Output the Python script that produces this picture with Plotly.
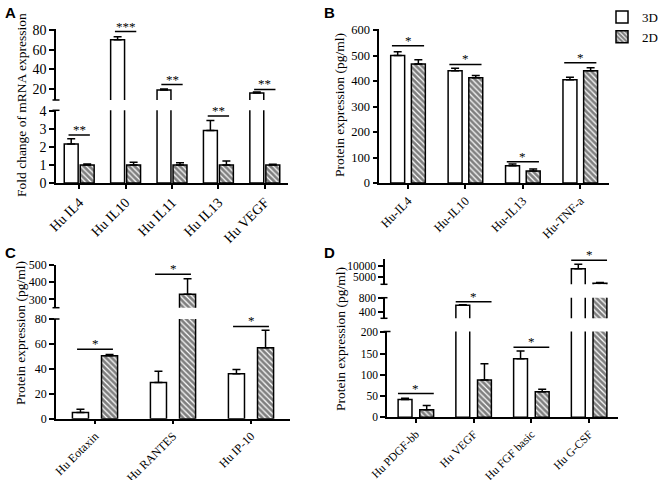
import plotly.graph_objects as go

W, H = 659, 480
SERIF = "Liberation Serif"

# ---- data ----
# A: fold change of mRNA expression
a_cats = ["Hu IL4", "Hu IL10", "Hu IL11", "Hu IL13", "Hu VEGF"]
a_3d = [2.15, 70, 19, 2.9, 16]
a_3d_err = [0.3, 3, 1, 0.55, 1]
a_2d = [1.0, 1.0, 1.0, 1.0, 1.0]
a_2d_err = [0.05, 0.15, 0.12, 0.22, 0.03]
a_sig = [2.65, 78.4, 24.5, 3.7, 19.6]
a_stars = ["**", "***", "**", "**", "**"]

# B: protein expression (pg/ml)
b_cats = ["Hu-IL4", "Hu-IL10", "Hu-IL13", "Hu-TNF-a"]
b_3d = [500, 440, 68, 405]
b_3d_err = [15, 10, 7, 10]
b_2d = [467, 413, 47, 440]
b_2d_err = [16, 9, 8, 12]
b_sig = [538, 465, 83, 472]
b_stars = ["*", "*", "*", "*"]

# C: protein expression (pg/ml)
c_cats = ["Hu Eotaxin", "Hu RANTES", "Hu IP-10"]
c_3d = [5, 29, 36]
c_3d_err = [2.5, 9, 3.5]
c_2d = [50.5, 330, 57]
c_2d_err = [1, 90, 14]
c_sig = [55.7, 446, 74]
c_stars = ["*", "*", "*"]

# D: protein expression (pg/ml)
d_cats = ["Hu PDGF-bb", "Hu VEGF", "Hu FGF basic", "Hu G-CSF"]
d_3d = [42, 600, 138, 8950]
d_3d_err = [3, 15, 18, 2000]
d_2d = [18, 88, 60, 2250]
d_2d_err = [10, 38, 6, 400]
d_sig = [56, 703, 165, 12790]
d_stars = ["*", "*", "*", "*"]


def px_x(p):
    return p / W


def px_y(p):
    return 1 - p / H


# panel layout: x axis pixel span, segments (y range, pixel bottom, pixel top, ticks, axis x),
# bar width / gap in category units, half width of the significance line
panels = [
    dict(cats=a_cats, v3=a_3d, e3=a_3d_err, v2=a_2d, e2=a_2d_err, sig=a_sig, stars=a_stars,
         xpx=(56, 288), w=0.30, g=0.045, h=0.23, show=False, fs=14,
         segs=[([0, 4.02], 183, 110.3, [0, 1, 2, 3, 4], None),
               ([8.8, 81.5], 100, 28.5, [20, 40, 60, 80], None)],
         title="Fold change of mRNA expression", tpos=(21, 105), letter="A", lpos=(3, 2)),
    dict(cats=b_cats, v3=b_3d, e3=b_3d_err, v2=b_2d, e2=b_2d_err, sig=b_sig, stars=b_stars,
         xpx=(379.3, 609), w=0.243, g=0.117, h=0.28, show=True, fs=12.5,
         segs=[([0, 604], 183, 29, [0, 100, 200, 300, 400, 500, 600], None)],
         title="Protein expression (pg/ml)", tpos=(339, 105), letter="B", lpos=(322, 2)),
    dict(cats=c_cats, v3=c_3d, e3=c_3d_err, v2=c_2d, e2=c_2d_err, sig=c_sig, stars=c_stars,
         xpx=(56, 290), w=0.206, g=0.167, h=0.23, show=False, fs=12,
         segs=[([0, 80], 418.7, 319, [0, 20, 40, 60, 80], None),
               ([251, 500], 307.7, 265, [300, 400, 500], None)],
         title="Protein expression (pg/ml)", tpos=(20, 333), letter="C", lpos=(3, 242)),
    dict(cats=d_cats, v3=d_3d, e3=d_3d_err, v2=d_2d, e2=d_2d_err, sig=d_sig, stars=d_stars,
         xpx=(387, 618), w=0.24, g=0.135, h=0.31, show=False, fs=11.5,
         segs=[([0, 202], 417.3, 331.5, [0, 50, 100, 150, 200], None),
               ([229, 817], 318.3, 297.7, [400, 800], 384),
               ([1800, 13380], 284.3, 259, [5000, 10000], 384)],
         title="Protein expression (pg/ml)", tpos=(340, 339), letter="D", lpos=(322, 242)),
]

fig = go.Figure()
shapes, annots = [], []
layout = {}


def in_seg(vals, errs, rng):
    # bars that end below a segment are left out of it
    v = [x if x >= rng[0] else None for x in vals]
    e = [er if x >= rng[0] else 0 for x, er in zip(vals, errs)]
    return v, e


xi = 0
yi = 0
for p in panels:
    xi += 1
    xname = "x" if xi == 1 else f"x{xi}"
    xkey = "xaxis" if xi == 1 else f"xaxis{xi}"
    n = len(p["cats"])
    tickfont = dict(family=SERIF, size=p["fs"], color="black")
    first_y = "y" if yi == 0 else f"y{yi + 1}"
    layout[xkey] = dict(
        domain=[px_x(p["xpx"][0]), px_x(p["xpx"][1])], anchor=first_y,
        type="category", range=[-0.5, n - 0.5], showline=True, linecolor="black",
        linewidth=1.5, ticks="outside", ticklen=4, tickwidth=1.5, tickcolor="black",
        tickangle=-45, tickfont=tickfont, showgrid=False, zeroline=False,
        automargin=False,
    )
    seg_names = []
    for si, (rng, pb, pt, tv, ax_x) in enumerate(p["segs"]):
        yi += 1
        yname = "y" if yi == 1 else f"y{yi}"
        ykey = "yaxis" if yi == 1 else f"yaxis{yi}"
        seg_names.append((yname, rng))
        yax = dict(
            domain=[px_y(pb), px_y(pt)], anchor=xname, range=rng, tickvals=tv,
            tickformat="d", showline=True, linecolor="black", linewidth=1.5,
            ticks="outside", ticklen=5, tickwidth=1.5, tickcolor="black",
            tickfont=tickfont, showgrid=False, zeroline=False, automargin=False,
        )
        if ax_x is not None:
            yax.update(anchor="free", position=px_x(ax_x))
        layout[ykey] = yax
        show = p["show"] and si == 0
        w, g = p["w"], p["g"]
        v3, e3 = in_seg(p["v3"], p["e3"], rng)
        v2, e2 = in_seg(p["v2"], p["e2"], rng)
        fig.add_trace(go.Bar(
            x=p["cats"], y=v3, xaxis=xname, yaxis=yname, name="3D",
            width=w, offset=-(w + g / 2), showlegend=show, legendgroup="3D",
            marker=dict(color="white", line=dict(color="black", width=1.5)),
            error_y=dict(type="data", array=e3, arrayminus=[0] * n, symmetric=False,
                         color="black", thickness=1.5, width=4),
        ))
        fig.add_trace(go.Bar(
            x=p["cats"], y=v2, xaxis=xname, yaxis=yname, name="2D",
            width=w, offset=g / 2, showlegend=show, legendgroup="2D",
            marker=dict(color="white", line=dict(color="black", width=1.5),
                        pattern=dict(shape="\\", fgcolor="black", bgcolor="white",
                                     size=4, solidity=0.7)),
            error_y=dict(type="data", array=e2, arrayminus=[0] * n, symmetric=False,
                         color="black", thickness=1.5, width=4),
        ))
        # break marks at the ends of the segments next to a gap
        xl = px_x(ax_x if ax_x is not None else p["xpx"][0])
        ends = []
        if si > 0:
            ends.append(pb)
        if si < len(p["segs"]) - 1:
            ends.append(pt)
        for e in ends:
            shapes.append(dict(type="line", xref="paper", yref="paper",
                               x0=xl - 3.5 / W, x1=xl + 3.5 / W, y0=px_y(e), y1=px_y(e),
                               line=dict(color="black", width=1.5)))

    # significance bars and stars
    for i, (s, st) in enumerate(zip(p["sig"], p["stars"])):
        yname = seg_names[0][0]
        for nm, rng in seg_names:
            if rng[0] <= s <= rng[1]:
                yname = nm
        shapes.append(dict(type="line", xref=xname, yref=yname,
                           x0=i - p["h"], x1=i + p["h"], y0=s, y1=s,
                           line=dict(color="black", width=1.5)))
        annots.append(dict(x=i, y=s, xref=xname, yref=yname, text=st, showarrow=False,
                           xanchor="center", yanchor="bottom", yshift=-4,
                           font=dict(family=SERIF, size=13, color="black")))

    annots.append(dict(x=px_x(p["tpos"][0]), y=px_y(p["tpos"][1]), xref="paper", yref="paper",
                       text=p["title"], textangle=-90, showarrow=False,
                       xanchor="center", yanchor="middle",
                       font=dict(family=SERIF, size=13.5, color="black")))
    annots.append(dict(x=px_x(p["lpos"][0]), y=px_y(p["lpos"][1]), xref="paper", yref="paper",
                       text=f"<b>{p['letter']}</b>", showarrow=False,
                       xanchor="left", yanchor="top",
                       font=dict(family="Liberation Sans", size=15, color="black")))

fig.update_layout(
    width=W, height=H,
    margin=dict(l=0, r=0, t=0, b=0, autoexpand=False),
    paper_bgcolor="white", plot_bgcolor="white",
    barmode="overlay",
    shapes=shapes, annotations=annots,
    legend=dict(x=px_x(602), y=px_y(2), xanchor="left", yanchor="top",
                font=dict(family=SERIF, size=13, color="black"),
                bgcolor="rgba(0,0,0,0)", tracegroupgap=0),
    **layout,
)

fig.write_html("out.html", config={"displayModeBar": False},
               post_script="document.body.style.margin='0px';")
